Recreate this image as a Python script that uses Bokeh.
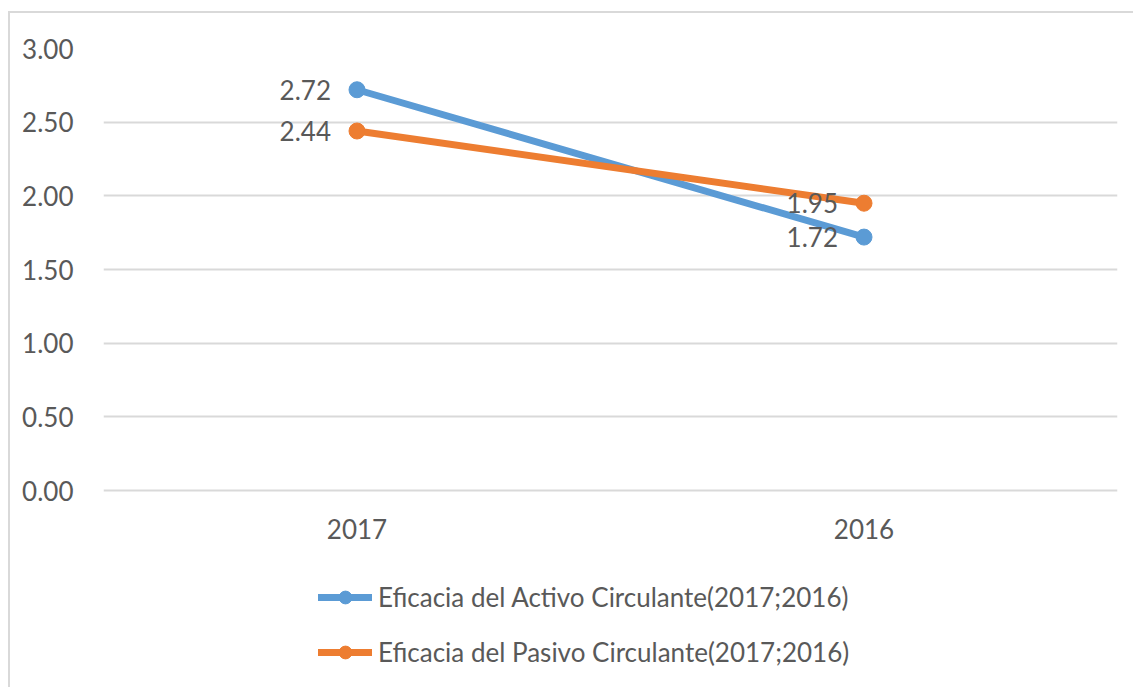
from bokeh.plotting import figure
from bokeh.models import FactorRange, Range1d, ColumnDataSource, Legend, LegendItem, FixedTicker, LabelSet, NumeralTickFormatter
from bokeh.embed import file_html
from bokeh.resources import INLINE
from bokeh.core.properties import value

years = ["2017", "2016"]
activo = [2.72, 1.72]
pasivo = [2.44, 1.95]
activo_labels = ["2.72", "1.72"]
pasivo_labels = ["2.44", "1.95"]
y_ticks = [0, 0.5, 1.0, 1.5, 2.0, 2.5, 3.0]
series_names = ["Eficacia del Activo Circulante(2017;2016)",
                "Eficacia del Pasivo Circulante(2017;2016)"]

FONT = "Lato"
FS = "26px"
TXT = "#595959"
BLUE = "#5B9BD5"
ORANGE = "#ED7D31"

# frame extends below the value axis to host the legend; y=0 sits at the category axis
p = figure(frame_width=1014, frame_height=639, x_range=FactorRange(*years, range_padding=0),
           y_range=Range1d(-1.337, 3), output_backend="svg", toolbar_location=None,
           min_border_left=93, min_border_right=16, min_border_top=35, min_border_bottom=0,
           styles={"border-top": "2px solid #d9d9d9", "border-left": "2px solid #d9d9d9",
                   "margin-left": "8px", "margin-top": "11px"})
p.outline_line_color = None
p.background_fill_color = "white"
p.border_fill_color = "white"

p.xgrid.grid_line_color = None
p.ygrid.grid_line_color = "#d9d9d9"
p.ygrid.grid_line_width = 2
p.yaxis.ticker = FixedTicker(ticks=y_ticks)
p.yaxis.formatter = NumeralTickFormatter(format="0.00")
for ax in (p.xaxis, p.yaxis):
    ax.axis_line_color = None
    ax.major_tick_line_color = None
    ax.minor_tick_line_color = None
    ax.major_label_text_font = FONT
    ax.major_label_text_font_size = FS
    ax.major_label_text_color = TXT
p.yaxis.major_label_standoff = 24
p.xaxis.major_label_standoff = 22
p.xaxis.fixed_location = 0

src = ColumnDataSource(dict(x=years, a=activo, b=pasivo, al=activo_labels, bl=pasivo_labels))

la = p.line("x", "a", source=src, line_color=BLUE, line_width=7, line_cap="round")
ca = p.scatter("x", "a", source=src, size=16, fill_color=BLUE, line_color=BLUE)
lb = p.line("x", "b", source=src, line_color=ORANGE, line_width=7, line_cap="round")
cb = p.scatter("x", "b", source=src, size=16, fill_color=ORANGE, line_color=ORANGE)

for col, lab in (("a", "al"), ("b", "bl")):
    p.add_layout(LabelSet(x="x", y=col, text=lab, source=src, x_offset=-26, y_offset=0,
                          text_align="right", text_baseline="middle",
                          text_font=value(FONT), text_font_size=FS, text_color=TXT))

legend = Legend(items=[LegendItem(label=series_names[0], renderers=[la, ca]),
                       LegendItem(label=series_names[1], renderers=[lb, cb])],
                location=(215, 19), orientation="vertical",
                glyph_width=54, glyph_height=32, spacing=23, padding=0, margin=0,
                label_standoff=6, label_text_font=FONT, label_text_font_size=FS,
                label_text_color=TXT, border_line_color=None, background_fill_alpha=0)
p.add_layout(legend, "center")

open("out.html", "w").write(file_html(p, INLINE))
